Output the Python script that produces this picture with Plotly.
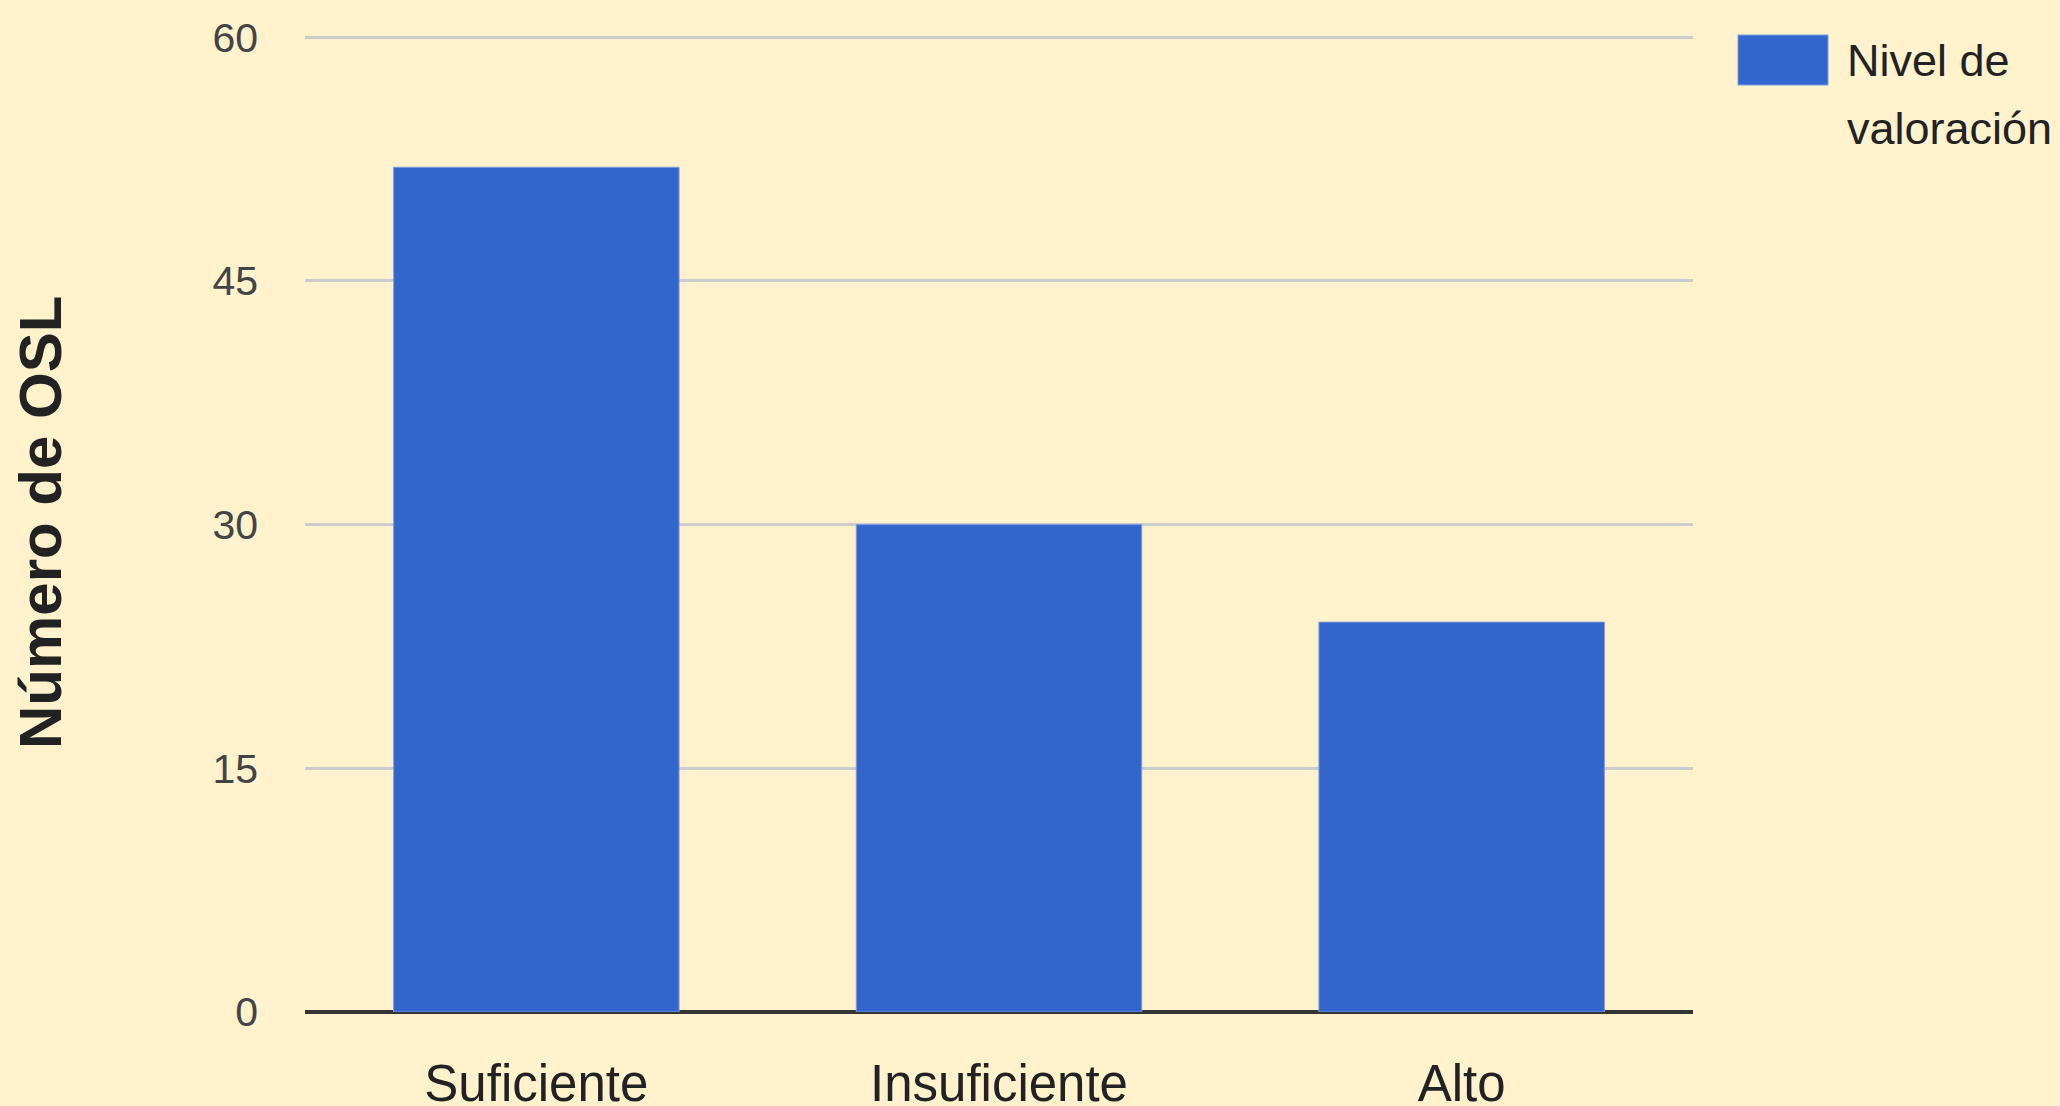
import plotly.graph_objects as go

categories = ["Suficiente", "Insuficiente", "Alto"]
values = [52, 30, 24]
series_name = "Nivel de<br>valoración"
y_ticks = [0, 15, 30, 45, 60]
y_title = "Número de OSL"

W, H = 2060, 1106
L, R, T, B = 305, 2060 - 1693, 34, 1106 - 1012
pw, ph = W - L - R, H - T - B

def px_x(p):
    return (p - L) / pw

def px_y(p):
    return (H - B - p) / ph

bg = "#FFF2CC"
blue = "#3366CC"
sans = "Liberation Sans, Arial, sans-serif"

fig = go.Figure()
fig.add_trace(go.Bar(
    x=categories, y=values, name=series_name,
    marker=dict(color=blue, line=dict(width=1, color="#7E9DDD")),
    showlegend=False,
))

legend_lines = series_name.split("<br>")
legend_annots = [
    dict(
        text=line, xref="paper", yref="paper",
        x=px_x(1845), y=px_y(60 + 68 * i), xanchor="left", yanchor="middle",
        showarrow=False, align="left",
        font=dict(family=sans, size=45, color="#222222"),
    )
    for i, line in enumerate(legend_lines)
]

fig.update_layout(
    width=W, height=H,
    paper_bgcolor=bg, plot_bgcolor=bg,
    margin=dict(l=L, r=R, t=T, b=B, autoexpand=False),
    bargap=0.383,
    xaxis=dict(
        showgrid=False, zeroline=False, showline=False,
        tickfont=dict(family=sans, size=51, color="#222222"),
        ticklabelstandoff=37,
    ),
    yaxis=dict(
        range=[0, 60.2], tickvals=y_ticks,
        showgrid=True, gridcolor="#CCCCCC", gridwidth=3,
        zeroline=True, zerolinecolor="#333333", zerolinewidth=4,
        showline=False,
        tickfont=dict(family=sans, size=41, color="#444444"),
        ticklabelstandoff=46,
    ),
    shapes=[dict(
        type="rect", xref="paper", yref="paper",
        x0=px_x(1738), x1=px_x(1828), y0=px_y(85), y1=px_y(35),
        fillcolor=blue, line=dict(width=1, color="#7E9DDD"),
    )],
    annotations=legend_annots + [
        dict(
            text="<b>" + y_title + "</b>", xref="paper", yref="paper",
            x=px_x(40), y=px_y(523), xanchor="center", yanchor="middle",
            textangle=-90, showarrow=False,
            font=dict(family=sans, size=60, color="#222222"),
        ),
    ],
)

fig.write_html(
    "out.html",
    config={"displayModeBar": False},
    post_script="document.body.style.margin='0';document.body.style.overflow='hidden';document.body.style.background='#FFF2CC';",
)
